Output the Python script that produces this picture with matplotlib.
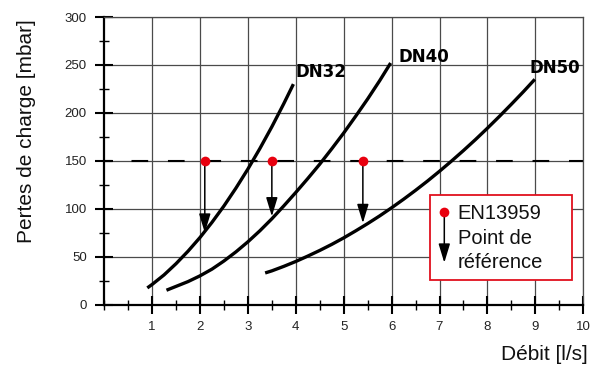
import matplotlib
matplotlib.use("Agg")
import matplotlib.pyplot as plt
from matplotlib.patches import FancyArrowPatch, Rectangle
from matplotlib.ticker import MultipleLocator, FixedLocator

plt.rcParams['font.family'] = ['Liberation Sans', 'DejaVu Sans']

# ---- data ----
dn32_x = [0.90, 1.0, 1.25, 1.5, 1.75, 2.0, 2.25, 2.5, 2.75, 3.0, 3.25, 3.5, 3.75, 3.95]
dn32_y = [17.4, 21, 31, 42.7, 55.7, 70, 85.8, 102.9, 121.5, 141.4, 162.8, 185.5, 209.7, 230]

dn40_x = [1.30, 1.5, 1.75, 2.0, 2.25, 2.5, 2.75, 3.0, 3.25, 3.5, 3.75, 4.0, 4.25,
          4.5, 4.75, 5.0, 5.25, 5.5, 5.75, 5.98]
dn40_y = [15, 19, 24, 30, 37, 45.5, 55, 65.5, 77, 89.5, 103, 117, 131.5,
          146.5, 162.5, 179, 196.5, 214.5, 233.5, 252]

dn50_x = [3.36, 3.5, 3.75, 4.0, 4.25, 4.5, 4.75, 5.0, 5.25, 5.5, 5.75, 6.0, 6.25,
          6.5, 6.75, 7.0, 7.25, 7.5, 7.75, 8.0, 8.25, 8.5, 8.75, 8.99]
dn50_y = [33, 35.2, 39.9, 45, 50.6, 56.5, 62.8, 69.6, 76.9, 84.5, 92.5, 101, 109.9,
          119.2, 128.9, 139.1, 149.7, 160.7, 172.1, 184, 196.3, 209, 222, 235]

curve_labels = ["DN32", "DN40", "DN50"]
label_x = [4.0, 6.15, 8.87]
label_y = [237, 253.5, 241.5]

ref_level = 150
ref_x = [2.1, 3.5, 5.4]
ref_tip_y = [75, 92, 85]

xticks = [1, 2, 3, 4, 5, 6, 7, 8, 9, 10]
yticks = [0, 50, 100, 150, 200, 250, 300]

legend_lines = ["EN13959", "Point de", "référence"]
xlabel = "Débit [l/s]"
ylabel = "Pertes de charge [mbar]"

# ---- figure ----
W, H = 600, 365
fig = plt.figure(figsize=(6, 3.65), dpi=100)
ax = fig.add_axes([104.2 / W, (H - 304.6) / H, 479.0 / W, 287.6 / H])
ax.set_xlim(0, 10)
ax.set_ylim(0, 300)

ax.xaxis.set_major_locator(FixedLocator(xticks))
ax.xaxis.set_minor_locator(MultipleLocator(0.5))
ax.yaxis.set_major_locator(FixedLocator(yticks))
ax.yaxis.set_minor_locator(MultipleLocator(25))
ax.set_xticklabels([str(t) for t in xticks])
ax.set_yticklabels([str(t) for t in yticks])

ax.tick_params(which='major', direction='inout', length=13, width=1.5,
               color='black', labelsize=9.5, labelcolor='#222222')
ax.tick_params(axis='x', which='major', pad=5)
ax.tick_params(axis='y', which='major', pad=6)
ax.tick_params(which='minor', direction='inout', length=6.5, width=1.0, color='black')

ax.grid(True, which='major', color='#4a4a4a', linewidth=0.9, zorder=0)
ax.set_axisbelow(True)
for s in ['top', 'right']:
    ax.spines[s].set_color('#4a4a4a')
    ax.spines[s].set_linewidth(0.9)
for s in ['left', 'bottom']:
    ax.spines[s].set_color('black')
    ax.spines[s].set_linewidth(1.6)

# dashed reference line
ax.plot([0, 10], [ref_level, ref_level], color='black', lw=1.5,
        linestyle=(4.3, (8, 9.5)), dash_capstyle='butt', zorder=2)

# curves
for xs, ys in [(dn32_x, dn32_y), (dn40_x, dn40_y), (dn50_x, dn50_y)]:
    ax.plot(xs, ys, color='black', lw=2.4, solid_capstyle='butt',
            solid_joinstyle='round', zorder=3)

for t, lx, ly in zip(curve_labels, label_x, label_y):
    ax.text(lx, ly, t, family='DejaVu Sans', fontweight='bold', fontsize=12,
            ha='left', va='baseline', zorder=4)

# arrows + red points
for xv, ty in zip(ref_x, ref_tip_y):
    arr = FancyArrowPatch((xv, ref_level), (xv, ty),
                          arrowstyle='-|>,head_length=1.15,head_width=0.35',
                          mutation_scale=10, color='black', lw=1.1,
                          shrinkA=0, shrinkB=0, zorder=4)
    ax.add_patch(arr)
ax.plot(ref_x, [ref_level] * len(ref_x), 'o', color='#e8000f', ms=7,
        mec='none', zorder=5)

# legend box (figure coordinates)
box = Rectangle((430 / W, (H - 280) / H), 141.7 / W, 85 / H,
                transform=fig.transFigure, facecolor='white',
                edgecolor='#e0101e', lw=1.3, zorder=10)
fig.patches.append(box)
dot_x, dot_y = 444.3 / W, (H - 211.7) / H
tip_y = (H - 262.7) / H
larr = FancyArrowPatch((dot_x, dot_y), (dot_x, tip_y),
                       transform=fig.transFigure,
                       arrowstyle='-|>,head_length=1.15,head_width=0.35',
                       mutation_scale=10, color='black', lw=1.1,
                       shrinkA=0, shrinkB=0, zorder=11)
fig.patches.append(larr)
fig.lines.append(plt.Line2D([dot_x], [dot_y], marker='o', color='#e8000f',
                            ms=7, mec='none', transform=fig.transFigure,
                            zorder=12))
for txt, yy in zip(legend_lines, [211.7, 236.5, 261.0]):
    fig.text(457.7 / W, (H - yy) / H, txt, fontsize=14.5, ha='left',
             va='center_baseline', color='#111111', zorder=13)

# axis labels
fig.text(588 / W, (H - 352) / H, xlabel, fontsize=15, ha='right',
         va='center_baseline', color='#111111')
fig.text(27 / W, (H - 131) / H, ylabel, fontsize=15, rotation=90,
         ha='center', va='center', color='#111111')

fig.savefig("out.png", dpi=100)
